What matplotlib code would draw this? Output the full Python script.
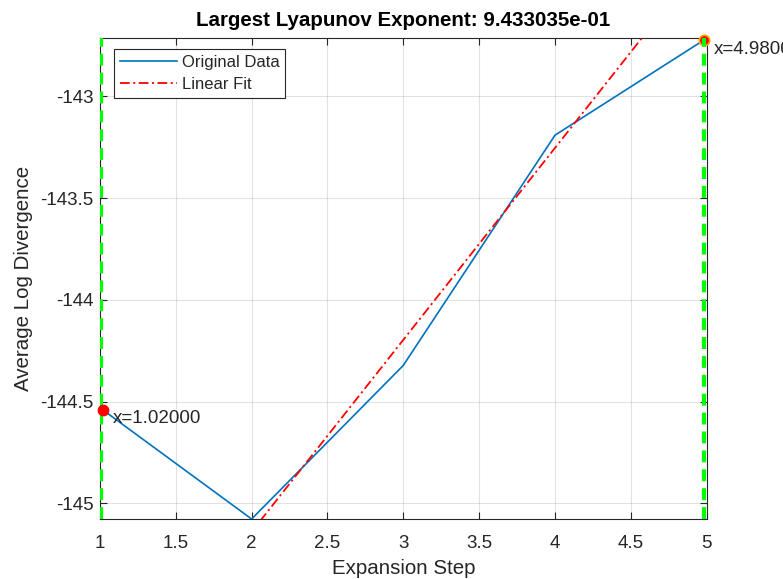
import numpy as np
import matplotlib
matplotlib.use("Agg")
import matplotlib.pyplot as plt

# ---- data ----
steps = [1, 2, 3, 4, 5]
avg_log_div = [-144.530, -145.077, -144.322, -143.190393, -142.714]
fit_steps = [2, 3, 4]                 # range used for the linear fit
window_bounds = [1.02, 4.98]          # marked boundaries
xticks = [1, 1.5, 2, 2.5, 3, 3.5, 4, 4.5, 5]
yticks = [-145, -144.5, -144, -143.5, -143]

plt.rcParams['font.family'] = ['Liberation Sans', 'DejaVu Sans']
plt.rcParams['lines.scale_dashes'] = False

x = np.array(steps, dtype=float)
y = np.array(avg_log_div)
mask = np.isin(x, fit_steps)
slope, intercept = np.polyfit(x[mask], y[mask], 1)

fig = plt.figure(figsize=(7.83, 5.79), dpi=100)
ax = fig.add_axes([0.1276, 0.1036, 0.9025 - 0.1276, 0.9339 - 0.1036])

dark = '#262626'
ax.plot(x, y, color='#0072BD', lw=1.2, label='Original Data', zorder=3)
ax.plot(x, slope * x + intercept, color='#FF0000', lw=1.3,
        dashes=(7, 2.5, 1.5, 2.5), label='Linear Fit', zorder=3)

for i, xb in enumerate(window_bounds):
    yb = np.interp(xb, x, y)
    ax.axvline(xb - 0.01 if i == 0 else xb, color='#00FF00', lw=3, dashes=(8.6, 5), zorder=4)
    if i == 0:
        ax.plot(xb, yb, 'o', color='#FF0000', ms=7.5, mec='#FF0000', zorder=5, clip_on=False)
    else:
        ax.plot(xb, yb, 'o', color='#FF0000', ms=7.5, mec='#FFA500', mew=1.2, zorder=3.5, clip_on=False)
    ax.annotate(f'x={xb:.5f}', xy=(xb, yb), xytext=(7, -6.5), textcoords='offset points',
                ha='left', va='center', fontsize=13.5, color=dark, annotation_clip=False)

ax.set_xlim(1, 5)
ax.set_ylim(min(avg_log_div), max(avg_log_div))
ax.set_xticks(xticks)
ax.set_yticks(yticks)
ax.set_xticklabels(['1', '1.5', '2', '2.5', '3', '3.5', '4', '4.5', '5'])
ax.set_yticklabels(['-145', '-144.5', '-144', '-143.5', '-143'])
ax.grid(True, color='#262626', alpha=0.13, lw=0.8)
ax.tick_params(direction='in', top=True, right=True, length=5, width=0.8,
               colors=dark, labelsize=13.5)
ax.tick_params(axis='x', pad=11.5)
ax.tick_params(axis='y', pad=4.5)
for s in ax.spines.values():
    s.set_color(dark)
    s.set_linewidth(0.8)

ax.set_xlabel('Expansion Step', fontsize=14.8, color=dark, labelpad=5)
ax.set_ylabel('Average Log Divergence', fontsize=14.8, color=dark, labelpad=5)
ax.set_title(f'Largest Lyapunov Exponent: {slope:.6e}', fontsize=14.8,
             fontweight='bold', color='black', pad=9)

leg = ax.legend(loc='upper left', bbox_to_anchor=(0.0237, 0.978), fontsize=12,
                frameon=True, fancybox=False, edgecolor=dark, framealpha=1,
                handlelength=3.4, handletextpad=0.3, labelspacing=0.45,
                borderpad=0.35, borderaxespad=0)
leg.get_frame().set_linewidth(0.8)
for t in leg.get_texts():
    t.set_color(dark)

fig.savefig('out.png', dpi=100)
